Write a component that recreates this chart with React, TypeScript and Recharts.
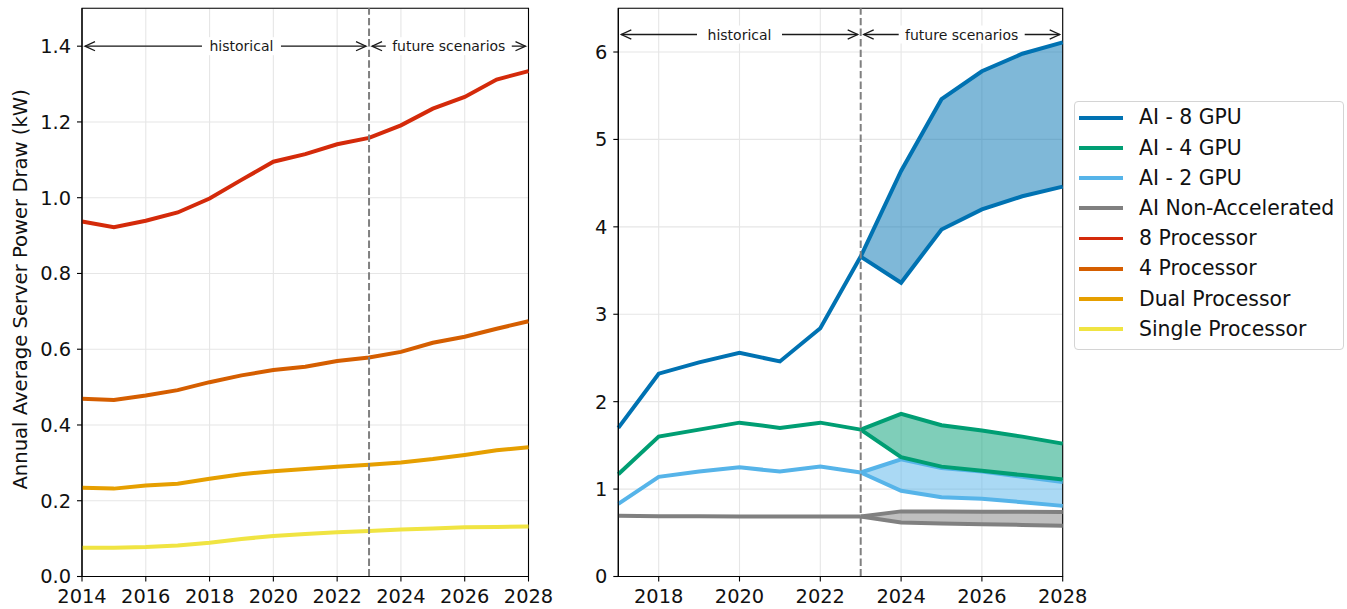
import React from 'react';
import {
  ComposedChart, Line, Area, XAxis, YAxis, CartesianGrid, ReferenceLine, ReferenceArea, Legend,
} from 'recharts';

// ---------------- data ----------------
const YEARS_LEFT = [2014, 2015, 2016, 2017, 2018, 2019, 2020, 2021, 2022, 2023, 2024, 2025, 2026, 2027, 2028];
const PROC8 = [0.937, 0.922, 0.939, 0.961, 0.998, 1.047, 1.095, 1.115, 1.141, 1.158, 1.191, 1.235, 1.266, 1.312, 1.334];
const PROC4 = [0.469, 0.466, 0.478, 0.492, 0.513, 0.531, 0.545, 0.554, 0.569, 0.578, 0.593, 0.617, 0.633, 0.654, 0.674];
const DUAL = [0.234, 0.232, 0.24, 0.245, 0.258, 0.27, 0.278, 0.284, 0.29, 0.295, 0.301, 0.31, 0.321, 0.333, 0.341];
const SINGLE = [0.076, 0.076, 0.078, 0.082, 0.089, 0.099, 0.107, 0.112, 0.117, 0.12, 0.124, 0.127, 0.13, 0.131, 0.132];

const HIST_YEARS = [2017, 2018, 2019, 2020, 2021, 2022, 2023];
const FUTURE_YEARS = [2023, 2024, 2025, 2026, 2027, 2028];
const GPU8_HIST = [1.7, 2.32, 2.45, 2.56, 2.46, 2.84, 3.66];
const GPU8_HIGH = [3.66, 4.64, 5.46, 5.78, 5.98, 6.11];
const GPU8_LOW = [3.66, 3.36, 3.97, 4.2, 4.35, 4.46];
const GPU4_HIST = [1.17, 1.6, 1.68, 1.76, 1.7, 1.76, 1.68];
const GPU4_HIGH = [1.68, 1.86, 1.73, 1.67, 1.6, 1.52];
const GPU4_LOW = [1.68, 1.365, 1.257, 1.21, 1.16, 1.11];
const GPU2_HIST = [0.83, 1.14, 1.2, 1.25, 1.2, 1.257, 1.19];
const GPU2_HIGH = [1.19, 1.34, 1.24, 1.2, 1.14, 1.08];
const GPU2_LOW = [1.19, 0.98, 0.907, 0.89, 0.85, 0.808];
const NONACC_HIST = [0.694, 0.688, 0.688, 0.687, 0.686, 0.686, 0.686];
const NONACC_HIGH = [0.686, 0.745, 0.745, 0.742, 0.74, 0.737];
const NONACC_LOW = [0.686, 0.617, 0.605, 0.598, 0.59, 0.58];

const LEFT_X_TICKS = [2014, 2016, 2018, 2020, 2022, 2024, 2026, 2028];
const LEFT_Y_TICKS = [0, 0.2, 0.4, 0.6, 0.8, 1.0, 1.2, 1.4];
const RIGHT_X_TICKS = [2018, 2020, 2022, 2024, 2026, 2028];
const RIGHT_Y_TICKS = [0, 1, 2, 3, 4, 5, 6];
const SPLIT_YEAR = 2023;

const LEGEND_ITEMS = [
  { name: 'AI - 8 GPU', color: '#0072B2' },
  { name: 'AI - 4 GPU', color: '#009E73' },
  { name: 'AI - 2 GPU', color: '#56B4E9' },
  { name: 'AI Non-Accelerated', color: '#808080' },
  { name: '8 Processor', color: '#D42A0A' },
  { name: '4 Processor', color: '#D55E00' },
  { name: 'Dual Processor', color: '#E69F00' },
  { name: 'Single Processor', color: '#F0E442' },
];
const C = Object.fromEntries(LEGEND_ITEMS.map((d) => [d.name, d.color]));

// ---------------- derived rows ----------------
const leftData = YEARS_LEFT.map((year, i) => ({
  year, proc8: PROC8[i], proc4: PROC4[i], dual: DUAL[i], single: SINGLE[i],
}));

const RIGHT_YEARS = Array.from(new Set([...HIST_YEARS, ...FUTURE_YEARS]));
const rightData = RIGHT_YEARS.map((year) => {
  const h = HIST_YEARS.indexOf(year);
  const f = FUTURE_YEARS.indexOf(year);
  const hv = (a: number[]) => (h >= 0 ? a[h] : null);
  const fv = (a: number[]) => (f >= 0 ? a[f] : null);
  const rv = (lo: number[], hi: number[]) => (f >= 0 ? [lo[f], hi[f]] : undefined);
  return {
    year,
    gpu8: hv(GPU8_HIST), gpu8Hi: fv(GPU8_HIGH), gpu8Lo: fv(GPU8_LOW), gpu8R: rv(GPU8_LOW, GPU8_HIGH),
    gpu4: hv(GPU4_HIST), gpu4Hi: fv(GPU4_HIGH), gpu4Lo: fv(GPU4_LOW), gpu4R: rv(GPU4_LOW, GPU4_HIGH),
    gpu2: hv(GPU2_HIST), gpu2Hi: fv(GPU2_HIGH), gpu2Lo: fv(GPU2_LOW), gpu2R: rv(GPU2_LOW, GPU2_HIGH),
    non: hv(NONACC_HIST), nonHi: fv(NONACC_HIGH), nonLo: fv(NONACC_LOW), nonR: rv(NONACC_LOW, NONACC_HIGH),
  };
});

// ---------------- styling helpers ----------------
const FONT = '"DejaVu Sans", Verdana, sans-serif';
const TICK_FS = 19.4;
const LW = 4;
const tickStyle = { fontSize: TICK_FS, fill: '#111', fontFamily: FONT };

function makeArrow(text: string, frac: number, textW: number, pad: number) {
  return (p: any) => {
    const { x1, y1, x2 } = p;
    const y = y1;
    const xa = x1 + 3;
    const xb = x2 - 3;
    const tx = x1 + (x2 - x1) * frac;
    const hl = 10;
    const hw = 4.6;
    const col = '#1a1a1a';
    return (
      <g>
        <line x1={xa} y1={y} x2={xb} y2={y} stroke={col} strokeWidth={1.3} />
        <path d={`M${xa + hl},${y - hw} L${xa},${y} L${xa + hl},${y + hw}`} fill="none" stroke={col} strokeWidth={1.3} />
        <path d={`M${xb - hl},${y - hw} L${xb},${y} L${xb - hl},${y + hw}`} fill="none" stroke={col} strokeWidth={1.3} />
        <rect x={tx - textW / 2 - pad} y={y - 9} width={textW + 2 * pad} height={18} fill="#fff" />
        <text x={tx} y={y} textAnchor="middle" dominantBaseline="central" fontSize={14} fill="#1a1a1a" fontFamily={FONT}>
          {text}
        </text>
      </g>
    );
  };
}

const YTitle = (props: any) => {
  const vb = props.viewBox || { x: 0, y: 8, width: 82, height: 568 };
  const x = vb.x + 20.5;
  const y = vb.y + vb.height / 2 - 3;
  return (
    <text x={x} y={y} transform={`rotate(-90, ${x}, ${y})`} textAnchor="middle" dominantBaseline="central"
      fontSize={19.6} fill="#111" fontFamily={FONT}>
      Annual Average Server Power Draw (kW)
    </text>
  );
};

const LegendBox = () => (
  <div style={{
    width: 270, height: 249, boxSizing: 'border-box', border: '1px solid #d4d4d4', borderRadius: 4,
    background: '#fff', paddingTop: 0.6, fontFamily: FONT,
  }}>
    {LEGEND_ITEMS.map((it) => (
      <div key={it.name} style={{ height: 30.2, display: 'flex', alignItems: 'center' }}>
        <div style={{ width: 44, height: 3.8, background: it.color, marginLeft: 4, marginRight: 16 }} />
        <span style={{ fontSize: 20.4, color: '#111', whiteSpace: 'nowrap', lineHeight: 1 }}>{it.name}</span>
      </div>
    ))}
  </div>
);

const lineCommon = { type: 'linear' as const, dot: false, activeDot: false, isAnimationActive: false, strokeWidth: LW, connectNulls: false };

export default function App() {
  return (
    <div style={{ position: 'absolute', left: 0, top: 0, width: 1347, height: 609, background: '#fff', fontFamily: FONT }}>
      <div style={{ position: 'absolute', left: 0, top: 0 }}>
        <ComposedChart width={566} height={609} data={leftData} margin={{ top: 8.3, right: 37.5, bottom: 2.5, left: 0 }}>
          <CartesianGrid stroke="#e6e6e6" strokeWidth={1.1} />
          <XAxis dataKey="year" type="number" domain={[2014, 2028]} ticks={LEFT_X_TICKS} interval={0}
            height={30} tickSize={5} tickMargin={8} tick={tickStyle}
            axisLine={{ stroke: '#000', strokeWidth: 1.1 }} tickLine={{ stroke: '#000', strokeWidth: 1.1 }} />
          <YAxis type="number" domain={[0, 1.5]} ticks={LEFT_Y_TICKS} interval={0} width={82}
            tickSize={5} tickMargin={6} tick={tickStyle} tickFormatter={(v: number) => v.toFixed(1)}
            axisLine={{ stroke: '#000', strokeWidth: 1.1 }} tickLine={{ stroke: '#000', strokeWidth: 1.1 }}
            label={{ content: (p: any) => <YTitle {...p} /> }} />
          <Line dataKey="single" stroke={C['Single Processor']} {...lineCommon} />
          <Line dataKey="dual" stroke={C['Dual Processor']} {...lineCommon} />
          <Line dataKey="proc4" stroke={C['4 Processor']} {...lineCommon} />
          <Line dataKey="proc8" stroke={C['8 Processor']} {...lineCommon} />
          <ReferenceLine x={SPLIT_YEAR} stroke="#808080" strokeWidth={2} strokeDasharray="7.4 3.2" />
          <ReferenceLine segment={[{ x: 2014, y: 1.4 }, { x: SPLIT_YEAR, y: 1.4 }]}
            shape={makeArrow('historical', 5 / 9, 65, 7)} />
          <ReferenceLine segment={[{ x: SPLIT_YEAR, y: 1.4 }, { x: 2028, y: 1.4 }]}
            shape={makeArrow('future scenarios', 0.5, 118, 4)} />
          <ReferenceArea x1={2014} x2={2028} y1={0} y2={1.5} fill="none" stroke="#000" strokeWidth={1.1} />
        </ComposedChart>
      </div>
      <div style={{ position: 'absolute', left: 540, top: 0 }}>
        <ComposedChart width={807} height={609} data={rightData} margin={{ top: 8.3, right: 284.3, bottom: 2.5, left: 0 }}>
          <CartesianGrid stroke="#e6e6e6" strokeWidth={1.1} />
          <XAxis dataKey="year" type="number" domain={[2017, 2028]} ticks={RIGHT_X_TICKS} interval={0}
            height={30} tickSize={5} tickMargin={8} tick={tickStyle}
            axisLine={{ stroke: '#000', strokeWidth: 1.1 }} tickLine={{ stroke: '#000', strokeWidth: 1.1 }} />
          <YAxis type="number" domain={[0, 6.5]} ticks={RIGHT_Y_TICKS} interval={0} width={78.3}
            tickSize={5} tickMargin={6} tick={tickStyle}
            axisLine={{ stroke: '#000', strokeWidth: 1.1 }} tickLine={{ stroke: '#000', strokeWidth: 1.1 }} />

          <Area dataKey="nonR" type="linear" stroke="none" fill={C['AI Non-Accelerated']} fillOpacity={0.5} isAnimationActive={false} activeDot={false} />
          <Line dataKey="non" stroke={C['AI Non-Accelerated']} {...lineCommon} />
          <Line dataKey="nonHi" stroke={C['AI Non-Accelerated']} {...lineCommon} />
          <Line dataKey="nonLo" stroke={C['AI Non-Accelerated']} {...lineCommon} />

          <Area dataKey="gpu2R" type="linear" stroke="none" fill={C['AI - 2 GPU']} fillOpacity={0.5} isAnimationActive={false} activeDot={false} />
          <Line dataKey="gpu2" stroke={C['AI - 2 GPU']} {...lineCommon} />
          <Line dataKey="gpu2Hi" stroke={C['AI - 2 GPU']} {...lineCommon} />
          <Line dataKey="gpu2Lo" stroke={C['AI - 2 GPU']} {...lineCommon} />

          <Area dataKey="gpu4R" type="linear" stroke="none" fill={C['AI - 4 GPU']} fillOpacity={0.5} isAnimationActive={false} activeDot={false} />
          <Line dataKey="gpu4" stroke={C['AI - 4 GPU']} {...lineCommon} />
          <Line dataKey="gpu4Hi" stroke={C['AI - 4 GPU']} {...lineCommon} />
          <Line dataKey="gpu4Lo" stroke={C['AI - 4 GPU']} {...lineCommon} />

          <Area dataKey="gpu8R" type="linear" stroke="none" fill={C['AI - 8 GPU']} fillOpacity={0.5} isAnimationActive={false} activeDot={false} />
          <Line dataKey="gpu8" stroke={C['AI - 8 GPU']} {...lineCommon} />
          <Line dataKey="gpu8Hi" stroke={C['AI - 8 GPU']} {...lineCommon} />
          <Line dataKey="gpu8Lo" stroke={C['AI - 8 GPU']} {...lineCommon} />

          <ReferenceLine x={SPLIT_YEAR} stroke="#808080" strokeWidth={2} strokeDasharray="7.4 3.2" />
          <ReferenceLine segment={[{ x: 2017, y: 6.2 }, { x: SPLIT_YEAR, y: 6.2 }]}
            shape={makeArrow('historical', 0.5, 65, 10)} />
          <ReferenceLine segment={[{ x: SPLIT_YEAR, y: 6.2 }, { x: 2028, y: 6.2 }]}
            shape={makeArrow('future scenarios', 0.5, 118, 4)} />
          <ReferenceArea x1={2017} x2={2028} y1={0} y2={6.5} fill="none" stroke="#000" strokeWidth={1.1} />
          <Legend layout="vertical" align="center" verticalAlign="middle"
            wrapperStyle={{ left: 534, top: 101, width: 270, height: 249, right: 'auto', bottom: 'auto' }}
            content={() => <LegendBox />} />
        </ComposedChart>
      </div>
    </div>
  );
}
